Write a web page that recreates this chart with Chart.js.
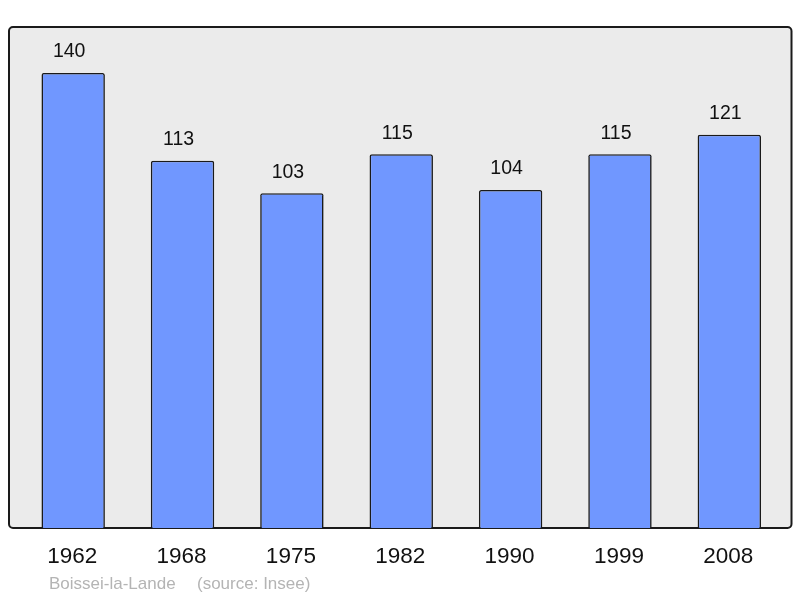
<!DOCTYPE html>
<html>
<head>
<meta charset="utf-8">
<script src="https://cdn.jsdelivr.net/npm/chart.js@4"></script>
<style>
  html, body { margin: 0; padding: 0; background: #ffffff; }
  #wrap { width: 800px; height: 598px; }
</style>
</head>
<body>
<div id="wrap"><canvas id="popChart" width="800" height="598"></canvas></div>
<script>
// Population data
const years = ['1962', '1968', '1975', '1982', '1990', '1999', '2008'];
const population = [140, 113, 103, 115, 104, 115, 121];
const townName = 'Boissei-la-Lande';
const sourceText = '(source: Insee)';

const FONT = '"Liberation Sans", Arial, sans-serif';

// Draws the grey framed plot area behind the bars
const framePlugin = {
    id: 'frame',
    beforeDatasetsDraw(chart) {
        const ctx = chart.ctx;
        const a = chart.chartArea;
        const x0 = a.left - 9.5, x1 = a.right + 7.5;
        const y0 = a.top - 1, y1 = a.bottom;
        ctx.save();
        ctx.beginPath();
        ctx.roundRect(x0, y0, x1 - x0, y1 - y0, 4);
        ctx.fillStyle = '#ebebeb';
        ctx.fill();
        ctx.lineWidth = 2;
        ctx.strokeStyle = '#1a1a1a';
        ctx.stroke();
        ctx.restore();
    }
};

// Value labels above bars, year labels under the axis, source line
const labelPlugin = {
    id: 'labels',
    afterDatasetsDraw(chart) {
        const ctx = chart.ctx;
        const xScale = chart.scales.x;
        const meta = chart.getDatasetMeta(0);
        ctx.save();
        ctx.textAlign = 'center';
        ctx.textBaseline = 'middle';
        ctx.fillStyle = '#111111';
        ctx.font = '19.5px ' + FONT;
        meta.data.forEach((bar, i) => {
            ctx.fillText(String(population[i]), bar.x - 4, bar.y - 21);
        });
        ctx.font = '22.5px ' + FONT;
        years.forEach((yr, i) => {
            ctx.fillText(yr, xScale.getPixelForValue(i) - 1, chart.chartArea.bottom + 29);
        });
        ctx.textAlign = 'left';
        ctx.font = '17px ' + FONT;
        ctx.fillStyle = '#b4b4b4';
        ctx.fillText(townName, 49, 584);
        ctx.fillText(sourceText, 197, 584);
        ctx.restore();
    }
};

const ctx = document.getElementById('popChart');
new Chart(ctx, {
    type: 'bar',
    data: {
        labels: years,
        datasets: [{
            data: population,
            backgroundColor: '#7097ff',
            borderColor: '#1a1a1a',
            borderWidth: 1.6,
            borderRadius: 2,
            borderSkipped: 'bottom',
            barPercentage: 0.58,
            categoryPercentage: 1.0
        }]
    },
    options: {
        responsive: false,
        animation: false,
        devicePixelRatio: 1,
        layout: {
            padding: { left: 18.5, right: 16, top: 28, bottom: 70 }
        },
        scales: {
            x: { display: false },
            y: { display: false, min: 0, max: 153.85 }
        },
        plugins: {
            legend: { display: false },
            tooltip: { enabled: false }
        }
    },
    plugins: [framePlugin, labelPlugin]
});
</script>
</body>
</html>
